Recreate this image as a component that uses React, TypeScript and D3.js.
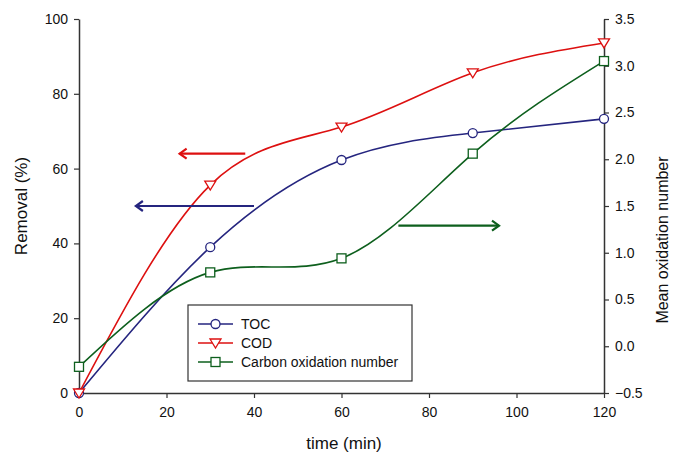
import React, { useEffect, useRef } from 'react';
import * as d3 from 'd3';

const times = [0, 30, 60, 90, 120];
const tocRemoval = [0, 39.0, 62.3, 69.5, 73.3];
const codRemoval = [0, 55.6, 71.1, 85.6, 93.6];
const carbonOxNumber = [-0.22, 0.79, 0.94, 2.06, 3.05];

const xTicks = [0, 20, 40, 60, 80, 100, 120];
const leftTicks = [0, 20, 40, 60, 80, 100];
const rightTicks = [-0.5, 0.0, 0.5, 1.0, 1.5, 2.0, 2.5, 3.0, 3.5];

const legendLabels = ['TOC', 'COD', 'Carbon oxidation number'];

const BLUE = '#25257f';
const RED = '#dd1010';
const GREEN = '#0d5f1d';
const AXIS = '#333333';
const FONT = '"Liberation Sans", Arial, sans-serif';

const App = () => {
  const ref = useRef<SVGSVGElement>(null);

  useEffect(() => {
    const svg = d3.select(ref.current);
    svg.selectAll('*').remove();

    // plot area
    const left = 79, right = 604, top = 19, bottom = 393;

    const x = d3.scaleLinear().domain([0, 120]).range([left, right]);
    const yL = d3.scaleLinear().domain([0, 100]).range([bottom, top]);
    const yR = d3.scaleLinear().domain([-0.5, 3.5]).range([bottom, top]);

    // axes
    const styleAxis = (g) => {
      g.select('.domain').attr('stroke', AXIS).attr('stroke-width', 1.5);
      g.selectAll('.tick line').attr('stroke', AXIS).attr('stroke-width', 1.2);
      g.selectAll('.tick text')
        .attr('fill', '#111')
        .style('font-family', FONT)
        .style('font-size', '14px');
    };

    svg.append('g')
      .attr('transform', `translate(0, ${bottom})`)
      .call(d3.axisBottom(x).tickValues(xTicks).tickSize(5).tickSizeOuter(0).tickPadding(9).tickFormat(d3.format('d')))
      .call(styleAxis);

    svg.append('g')
      .attr('transform', `translate(${left}, 0)`)
      .call(d3.axisLeft(yL).tickValues(leftTicks).tickSize(5).tickSizeOuter(0).tickPadding(6).tickFormat(d3.format('d')))
      .call(styleAxis);

    svg.append('g')
      .attr('transform', `translate(${right}, 0)`)
      .call(d3.axisRight(yR).tickValues(rightTicks).tickSize(5).tickSizeOuter(0).tickPadding(6).tickFormat(d3.format('.1f')))
      .call(styleAxis);

    // axis titles
    svg.append('text')
      .attr('transform', `translate(27, ${(top + bottom) / 2}) rotate(-90)`)
      .attr('text-anchor', 'middle')
      .style('font-family', FONT)
      .style('font-size', '17px')
      .attr('fill', '#111')
      .text('Removal (%)');

    svg.append('text')
      .attr('transform', `translate(668, 240) rotate(-90)`)
      .attr('text-anchor', 'middle')
      .style('font-family', FONT)
      .style('font-size', '16px')
      .attr('fill', '#111')
      .text('Mean oxidation number');

    svg.append('text')
      .attr('x', 344)
      .attr('y', 449)
      .attr('text-anchor', 'middle')
      .style('font-family', FONT)
      .style('font-size', '17px')
      .attr('fill', '#111')
      .text('time (min)');

    // series
    const series = [
      { values: tocRemoval, scale: yL, color: BLUE, marker: 'circle' },
      { values: codRemoval, scale: yL, color: RED, marker: 'triangle' },
      { values: carbonOxNumber, scale: yR, color: GREEN, marker: 'square' },
    ];

    const drawMarker = (g, type, cx, cy, color) => {
      if (type === 'circle') {
        g.append('circle').attr('cx', cx).attr('cy', cy).attr('r', 4.5)
          .attr('fill', 'white').attr('stroke', color).attr('stroke-width', 1.3);
      } else if (type === 'square') {
        g.append('rect').attr('x', cx - 4.5).attr('y', cy - 4.5).attr('width', 9).attr('height', 9)
          .attr('fill', 'white').attr('stroke', color).attr('stroke-width', 1.3);
      } else {
        g.append('path')
          .attr('d', `M${cx - 5.5},${cy - 4} L${cx + 5.5},${cy - 4} L${cx},${cy + 5} Z`)
          .attr('fill', 'white').attr('stroke', color).attr('stroke-width', 1.3);
      }
    };

    series.forEach((s) => {
      const line = d3.line<number>()
        .x((d, i) => x(times[i]))
        .y((d) => s.scale(d))
        .curve(d3.curveNatural);
      svg.append('path')
        .datum(s.values)
        .attr('d', line)
        .attr('fill', 'none')
        .attr('stroke', s.color)
        .attr('stroke-width', 1.6);
    });

    series.forEach((s) => {
      const g = svg.append('g');
      s.values.forEach((v, i) => drawMarker(g, s.marker, x(times[i]), s.scale(v), s.color));
    });

    // arrows pointing to the axis of each series
    const arrow = (x1, x2, yv, color) => {
      const g = svg.append('g').attr('stroke', color).attr('stroke-width', 2.2).attr('fill', 'none');
      g.append('line').attr('x1', x1).attr('x2', x2).attr('y1', yv).attr('y2', yv);
      const dir = x2 > x1 ? -1 : 1;
      g.append('path').attr('d', `M${x2 + dir * 7},${yv - 5} L${x2},${yv} L${x2 + dir * 7},${yv + 5}`);
    };
    arrow(x(38), x(23), yL(64), RED);
    arrow(x(40), x(13), yL(50), BLUE);
    arrow(x(73), x(96), yR(1.29), GREEN);

    // legend
    const lg = svg.append('g').attr('transform', 'translate(188, 305)');
    lg.append('rect').attr('width', 224).attr('height', 76)
      .attr('fill', 'white').attr('stroke', AXIS).attr('stroke-width', 1.2);
    series.forEach((s, i) => {
      const yy = 19 + i * 19;
      lg.append('line').attr('x1', 10).attr('x2', 45).attr('y1', yy).attr('y2', yy)
        .attr('stroke', s.color).attr('stroke-width', 1.6);
      drawMarker(lg, s.marker, 27.5, yy, s.color);
      lg.append('text').attr('x', 53).attr('y', yy + 5)
        .style('font-family', FONT).style('font-size', '14px').attr('fill', '#111')
        .text(legendLabels[i]);
    });
  }, []);

  return (
    <svg ref={ref} width={673} height={453} style={{ position: 'absolute', left: 0, top: 0, background: 'white' }} />
  );
};

export default App;
